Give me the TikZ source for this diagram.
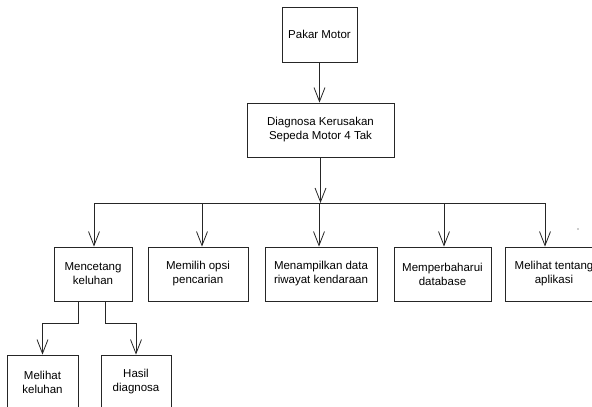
\documentclass[tikz,border=0pt]{standalone}
\usepackage{fontspec}
\setmainfont{Liberation Sans}
\usetikzlibrary{arrows.meta}
\begin{document}
\begin{tikzpicture}[x=1pt,y=-1pt,
  box/.style={draw=black!85,line width=0.8pt,rectangle,inner sep=0pt,align=center,
    font=\fontsize{11.5}{14}\selectfont,minimum height=54pt},
  conn/.style={draw=black!85,line width=0.8pt},
  arr/.style={conn,-{Straight Barb[length=14pt,width=11pt,line width=0.8pt]}}]
\useasboundingbox (0,0) rectangle (592,407);
\clip (0,0) rectangle (592,407);
\node[box,minimum width=75pt,minimum height=55pt] (pakar) at (319.5,34.5) {Pakar Motor};
\node[box,minimum width=147pt] (diag) at (320.5,130) {Diagnosa Kerusakan\\ Sepeda Motor 4 Tak};
\node[box,minimum width=78pt] (cetak) at (93,274) {Mencetang\\ keluhan};
\node[box,minimum width=100pt] (opsi) at (198,274) {Memilih opsi\\ pencarian};
\node[box,minimum width=112pt] (riwayat) at (321,274) {Menampilkan data\\ riwayat kendaraan};
\node[box,minimum width=97pt] (update) at (442.5,274) {Memperbaharui\\ database};
\node[box,minimum width=98pt] (tentang) at (554,274) {Melihat tentang\\ aplikasi};
\node[box,minimum width=71pt] (lihat) at (42.5,382) {Melihat\\ keluhan};
\node[box,minimum width=70pt] (hasil) at (136,382) {Hasil\\ diagnosa};
\fill[black!85] (578,229) circle (0.6pt);
% bus
\coordinate (b1) at (94,203);
\coordinate (b2) at (202,203);
\coordinate (b3) at (319,203);
\coordinate (b4) at (444,203);
\coordinate (b5) at (545,203);
\draw[arr] (pakar.south) -- (pakar.south |- diag.north);
\draw[arr] (diag.south) -- (diag.south |- b1);
\draw[conn] (b1) -- (b5);
\draw[arr] (b1) -- (b1 |- cetak.north);
\draw[arr] (b2) -- (b2 |- opsi.north);
\draw[arr] (b3) -- (b3 |- riwayat.north);
\draw[arr] (b4) -- (b4 |- update.north);
\draw[arr] (b5) -- (b5 |- tentang.north);
% sub-branches
\coordinate (s1) at (78,301);
\coordinate (s2) at (105,301);
\draw[arr] (s1 |- cetak.south) -- (78,323) -- (lihat.north |- 0,323) -- (lihat.north);
\draw[arr] (s2 |- cetak.south) -- (105,323) -- (hasil.north |- 0,323) -- (hasil.north);
\end{tikzpicture}
\end{document}
